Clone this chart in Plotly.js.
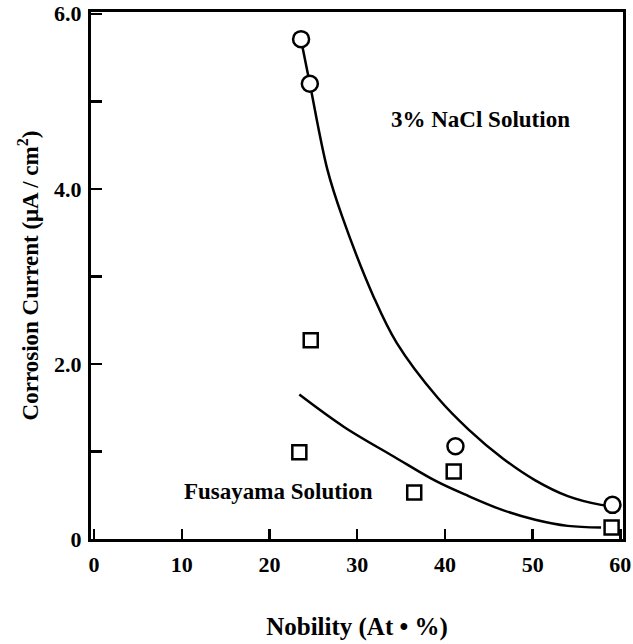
<!DOCTYPE html>
<html>
<head>
<meta charset="utf-8">
<script src="https://cdn.plot.ly/plotly-3.0.1.min.js"></script>
<style>html,body{margin:0;padding:0;background:#fff;}#chart{width:633px;height:644px;}</style>
</head>
<body>
<div id="chart"></div>
<script>
// Measured points
const naclX = [23.6, 24.6, 41.2, 59.1];
const naclY = [5.71, 5.20, 1.06, 0.39];
const fusaX = [24.7, 23.4, 36.5, 41.0, 59.0];
const fusaY = [2.27, 0.99, 0.53, 0.77, 0.13];
// Fitted curves as drawn
const naclCurveX = [23.6, 24.6, 26.6, 28.3, 31.9, 34.5, 39.2, 42.7, 46.6, 50.3, 54.0, 57.8, 58.7];
const naclCurveY = [5.70, 5.20, 4.22, 3.68, 2.76, 2.24, 1.61, 1.25, 0.92, 0.67, 0.49, 0.39, 0.38];
const fusaCurveX = [23.4, 28.5, 34.2, 39.0, 42.7, 46.6, 50.3, 54.0, 57.8];
const fusaCurveY = [1.65, 1.28, 0.94, 0.66, 0.49, 0.33, 0.22, 0.15, 0.13];
// Ticks
const xTickVals = [0, 10, 20, 30, 40, 50, 60];
const xTickText = ["0", "10", "20", "30", "40", "50", "60"];
const yTickVals = [0, 2, 4, 6];
const yTickText = ["0", "2.0", "4.0", "6.0"];
const yMinorVals = [1, 3, 5];
const labels = [
  {text: "3% NaCl Solution", x: 44.1, y: 4.79},
  {text: "Fusayama Solution", x: 21.0, y: 0.54}
];

const FONT = "Liberation Serif, DejaVu Serif, serif";
const traces = [
  {x: naclCurveX, y: naclCurveY, mode: "lines", line: {color: "#000", width: 2.5, shape: "spline", smoothing: 1}, showlegend: false, hoverinfo: "skip"},
  {x: fusaCurveX, y: fusaCurveY, mode: "lines", line: {color: "#000", width: 2.5, shape: "spline", smoothing: 1}, showlegend: false, hoverinfo: "skip"},
  {x: naclX, y: naclY, mode: "markers", name: "3% NaCl Solution",
   marker: {symbol: "circle", size: 16, color: "#fff", line: {color: "#000", width: 2.5}}, showlegend: false, cliponaxis: false},
  {x: fusaX, y: fusaY, mode: "markers", name: "Fusayama Solution",
   marker: {symbol: "square", size: 14, color: "#fff", line: {color: "#000", width: 2.5}}, showlegend: false, cliponaxis: false}
];

const layout = {
  width: 633, height: 644,
  margin: {l: 91, r: 10, t: 12, b: 105},
  paper_bgcolor: "#fff", plot_bgcolor: "#fff",
  font: {family: FONT, color: "#000", size: 22, weight: "bold"},
  xaxis: {
    range: [-0.35, 60.3], tickvals: xTickVals, ticktext: xTickText,
    ticks: "inside", ticklen: 10, tickwidth: 2.5, tickcolor: "#000",
    showline: true, linewidth: 3, linecolor: "#000", mirror: true,
    showgrid: false, zeroline: false, ticklabelstandoff: 4,
    tickfont: {family: FONT, size: 22, weight: "bold"},
    title: {text: "Nobility (At • %)", font: {family: FONT, size: 25, weight: "bold"}, standoff: 42}
  },
  yaxis: {
    range: [0, 6.02], tickvals: yTickVals, ticktext: yTickText,
    ticks: "inside", ticklen: 11, tickwidth: 2.5, tickcolor: "#000",
    minor: {tickvals: yMinorVals, ticks: "inside", ticklen: 11, tickwidth: 2.5, tickcolor: "#000", showgrid: false},
    showline: true, linewidth: 3, linecolor: "#000", mirror: true,
    showgrid: false, zeroline: false, ticklabelstandoff: 2,
    tickfont: {family: FONT, size: 22, weight: "bold"},
    title: {text: "Corrosion Current (μA / cm<sup>2</sup>)", font: {family: FONT, size: 23, weight: "bold"}, standoff: 10}
  },
  annotations: labels.map(l => ({
    x: l.x, y: l.y, xref: "x", yref: "y", text: l.text, showarrow: false,
    font: {family: FONT, size: 23, weight: "bold", color: "#000"}
  }))
};

Plotly.newPlot("chart", traces, layout, {displayModeBar: false, staticPlot: true});
</script>
</body>
</html>
